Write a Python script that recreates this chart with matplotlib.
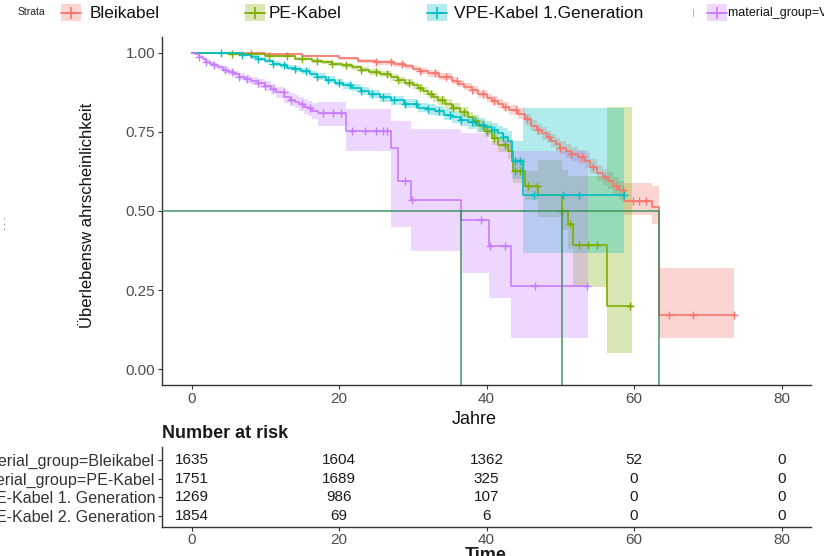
import numpy as np
import matplotlib
matplotlib.use('Agg')
import matplotlib.pyplot as plt
from matplotlib.patches import Rectangle
from matplotlib.lines import Line2D

plt.rcParams['font.family'] = ['Liberation Sans', 'DejaVu Sans']

# Kaplan-Meier readings: time, survival, lower CI, upper CI, censor times
bl_t  = [0, 5, 10, 15, 20, 22.6, 25, 27.5, 29, 30, 31, 32, 33.5, 35.3, 36.2, 37, 38, 38.9, 40, 40.8, 41.6, 42.3, 43, 44.3, 45.2, 46, 46.8, 47.5, 48.2, 48.8, 49.4, 50, 50.8, 51.5, 52.4, 53.3, 54.1, 55, 55.8, 56.5, 57.2, 57.9, 58.7, 62.5, 63.4, 73.6]
bl_s  = [1.0, .998, .995, .990, .983, .975, .970, .964, .957, .950, .943, .935, .925, .912, .903, .893, .882, .870, .857, .848, .839, .830, .820, .807, .790, .770, .757, .745, .733, .722, .711, .700, .690, .680, .670, .659, .640, .620, .607, .595, .580, .565, .533, .512, .170, .170]
bl_lo = [1.0, .996, .992, .986, .978, .969, .963, .956, .949, .941, .934, .925, .915, .901, .892, .881, .870, .857, .843, .834, .824, .815, .804, .790, .773, .752, .739, .726, .714, .702, .691, .679, .669, .658, .648, .636, .616, .595, .581, .568, .552, .535, .486, .460, .098, .098]
bl_hi = [1.0, 1.0, .998, .994, .988, .981, .977, .972, .965, .959, .952, .945, .935, .923, .914, .905, .894, .883, .871, .862, .854, .845, .836, .824, .807, .788, .775, .764, .752, .742, .731, .721, .711, .702, .692, .682, .664, .645, .633, .622, .608, .595, .587, .580, .319, .319]
bl_cens = [25, 27, 28.5, 31, 33, 34.5, 36, 38, 39.5, 41, 42.5, 44, 45.5, 47, 48.5, 50, 51.5, 53, 54.5, 56, 57.5, 58.5, 59.8, 60.7, 61.6, 64.7, 68.0, 73.6]

pe_t  = [0, 5, 10, 14, 16.3, 17.7, 19, 20.4, 21.7, 23, 24, 25.5, 27.1, 28, 29, 30, 30.7, 31.4, 32, 32.7, 33.4, 34.4, 35.3, 36.4, 37.5, 38.2, 39, 39.8, 40.7, 41.6, 42.9, 43.6, 45.2, 47.0, 50.3, 51.0, 51.7, 56.3, 59.7]
pe_s  = [1.0, .995, .990, .982, .975, .970, .965, .960, .954, .947, .940, .932, .922, .914, .905, .897, .890, .880, .870, .860, .850, .838, .827, .812, .796, .784, .770, .754, .732, .710, .691, .628, .580, .549, .500, .460, .391, .199, .199]
pe_lo = [1.0, .992, .986, .977, .969, .964, .958, .953, .946, .939, .931, .923, .912, .903, .894, .885, .878, .867, .857, .846, .836, .823, .812, .796, .779, .766, .751, .734, .710, .686, .664, .590, .535, .480, .440, .380, .260, .050, .050]
pe_hi = [1.0, .998, .994, .987, .981, .976, .972, .967, .962, .955, .949, .941, .932, .925, .916, .909, .902, .893, .883, .874, .864, .853, .842, .828, .813, .802, .789, .774, .754, .734, .718, .666, .625, .660, .630, .610, .610, .830, .830]
pe_cens = [5.5, 8, 10.5, 13, 15, 17, 19, 21, 23, 25, 26.5, 28, 29.5, 31, 32.5, 34, 35.5, 37, 38.5, 40, 41, 42.5, 43.9, 44.5, 45.6, 46.8, 50.3, 51.3, 52.6, 53.8, 55.0, 59.4]

v1_t  = [0, 3, 6.8, 8, 9, 10, 11, 12, 13, 14, 14.9, 16, 17, 18.3, 19.5, 20.6, 21.7, 23, 24, 25.5, 27, 28.8, 30.7, 32, 33, 34.2, 35.3, 36.4, 37.5, 38.7, 39.8, 40.7, 41.5, 42.2, 42.9, 43.4, 45.0, 58.7]
v1_s  = [1.0, .998, .994, .987, .980, .973, .966, .960, .953, .948, .943, .934, .925, .915, .905, .897, .890, .879, .870, .860, .850, .839, .827, .821, .815, .805, .796, .788, .780, .772, .764, .755, .745, .734, .722, .659, .549, .549]
v1_lo = [1.0, .996, .990, .982, .974, .967, .959, .952, .945, .939, .934, .924, .915, .904, .894, .885, .878, .866, .857, .846, .836, .824, .812, .805, .799, .788, .778, .769, .760, .751, .742, .731, .720, .706, .692, .600, .366, .366]
v1_hi = [1.0, 1.0, .998, .992, .986, .979, .973, .968, .961, .957, .952, .944, .935, .926, .916, .909, .902, .892, .883, .874, .864, .854, .842, .837, .831, .822, .814, .807, .800, .793, .786, .779, .770, .762, .752, .720, .827, .827]
v1_cens = [4, 6.8, 9, 11, 12.5, 14, 15.5, 17, 18.5, 20, 21.5, 23, 24.5, 26, 27.5, 29, 30.5, 32, 33.5, 35, 36.5, 38, 39.5, 41, 42.3, 43.8, 44.6, 46.5, 50.4, 52.5, 58.6]

v2_t  = [0, 0.5, 1, 1.5, 2, 2.5, 3, 3.6, 4.3, 5, 5.7, 6.5, 7.3, 8.1, 9, 10, 10.8, 11.5, 12.6, 13.3, 14, 14.6, 15.2, 15.8, 16.3, 17.1, 21.0, 27.1, 28.0, 29.8, 36.6, 40.4, 43.3, 53.8]
v2_s  = [1.0, .995, .988, .980, .972, .965, .960, .954, .947, .940, .933, .925, .918, .912, .904, .895, .885, .875, .859, .852, .845, .838, .830, .824, .817, .810, .754, .700, .596, .535, .472, .388, .262, .262]
v2_lo = [1.0, .992, .983, .974, .965, .957, .952, .945, .937, .930, .922, .913, .906, .899, .890, .880, .869, .858, .840, .832, .824, .816, .807, .800, .792, .770, .690, .449, .449, .375, .304, .224, .100, .100]
v2_hi = [1.0, .998, .993, .986, .979, .973, .968, .963, .957, .950, .944, .937, .930, .925, .918, .910, .901, .892, .878, .872, .866, .860, .853, .848, .842, .843, .823, .785, .785, .759, .745, .720, .690, .690]
v2_cens = [1, 2, 3, 4.5, 5.5, 6.5, 7.5, 9, 10, 11, 12.5, 13.5, 15, 16, 17.8, 19.2, 20.3, 21.7, 23.5, 25.0, 25.9, 26.5, 29.0, 29.9, 39.3, 40.5, 42.5, 46.6, 53.6]

groups = ['Bleikabel', 'PE-Kabel', 'VPE-Kabel 1. Generation', 'VPE-Kabel 2. Generation']
legend_names = ['Bleikabel', 'PE-Kabel', 'VPE-Kabel 1.Generation', 'material_group=VPE-Kabel 2. Generation']
colors = ['#F8766D', '#7CAE00', '#00BFC4', '#C77CFF']

# number at risk
risk_times = [0, 20, 40, 60, 80]
risk_bl = [1635, 1604, 1362, 52, 0]
risk_pe = [1751, 1689, 325, 0, 0]
risk_v1 = [1269, 986, 107, 0, 0]
risk_v2 = [1854, 69, 6, 0, 0]

curves = [(bl_t, bl_s, bl_lo, bl_hi, bl_cens),
          (pe_t, pe_s, pe_lo, pe_hi, pe_cens),
          (v1_t, v1_s, v1_lo, v1_hi, v1_cens),
          (v2_t, v2_s, v2_lo, v2_hi, v2_cens)]
risks = [risk_bl, risk_pe, risk_v1, risk_v2]

W, H = 824, 556
fig = plt.figure(figsize=(W/100, H/100), dpi=100)

def box(l, r, t, b):
    return [l/W, 1-b/H, (r-l)/W, (b-t)/H]

axc = '#333333'
tickc = '#4D4D4D'

ax = fig.add_axes(box(162, 811, 37, 385))
for (t, s, lo, hi, cens), col in zip(curves, colors):
    t = np.array(t); s = np.array(s)
    ax.fill_between(t, lo, hi, step='post', color=col, alpha=0.3, lw=0)
    ax.step(t, s, where='post', color=col, lw=1.2)
    idx = np.searchsorted(t, cens, side='right') - 1
    ax.plot(cens, s[idx], ls='none', marker='+', ms=6, mew=1.0, color=col)

# median survival lines
meds = []
for (t, s, lo, hi, cens) in curves:
    t = np.array(t); s = np.array(s)
    below = np.where(s <= 0.5)[0]
    if len(below):
        meds.append(t[below[0]])
mc = '#2E8B57'
ax.hlines(0.5, -4, max(meds), color=mc, lw=1.1, alpha=0.9, zorder=5)
ax.vlines(meds, -0.05, 0.5, color=mc, lw=1.1, alpha=0.9, zorder=5)

ax.set_xlim(-4, 84)
ax.set_ylim(-0.05, 1.05)
ax.set_xticks([0, 20, 40, 60, 80])
ax.set_yticks([0, 0.25, 0.5, 0.75, 1.0])
ax.set_yticklabels(['0.00', '0.25', '0.50', '0.75', '1.00'])
for sp in ['top', 'right']:
    ax.spines[sp].set_visible(False)
for sp in ['left', 'bottom']:
    ax.spines[sp].set_color(axc)
    ax.spines[sp].set_linewidth(1.0)
ax.tick_params(colors=axc, labelcolor=tickc, labelsize=11, length=3, width=0.8, pad=2)

fig.text(88/W, 1-215/H, 'Überlebensw ahrscheinlichkeit', rotation=90,
         ha='center', va='center', fontsize=12, color='#111111')
fig.text(474/W, 1-420/H, 'Jahre', ha='center', va='center', fontsize=13, color='#111111')
fig.text(3/W, 1-223/H, '. . .', rotation=90, ha='center', va='center', fontsize=7, color='#222222')

# risk table
ax2 = fig.add_axes(box(162, 811, 447, 527))
ys = [4, 3, 2, 1]
for y, r in zip(ys, risks):
    for x, n in zip(risk_times, r):
        ax2.text(x, y, str(n), ha='center', va='center', fontsize=11, color='#1a1a1a')
ax2.set_xlim(-4, 84)
ax2.set_ylim(0.4, 4.7)
ax2.set_xticks([0, 20, 40, 60, 80])
ax2.set_yticks(ys)
ax2.set_yticklabels(['material_group=' + g for g in groups])
for lab, col in zip(ax2.get_yticklabels(), colors):
    lab.set_color(col)
for sp in ['top', 'right']:
    ax2.spines[sp].set_visible(False)
for sp in ['left', 'bottom']:
    ax2.spines[sp].set_color(axc)
    ax2.spines[sp].set_linewidth(1.0)
ax2.tick_params(colors=axc, labelsize=11, length=3, width=0.8, pad=1)
ax2.tick_params(axis='y', labelsize=11.6, pad=2)
ax2.tick_params(axis='x', labelcolor=tickc)
fig.text(162/W, 1-433/H, 'Number at risk', ha='left', va='center', fontsize=13,
         fontweight='bold', color='#1a1a1a')
fig.text(486/W, 1-547/H, 'Time', ha='center', va='top', fontsize=13,
         fontweight='bold', color='#1a1a1a')

# legend on top
fig.text(18/W, 1-12/H, 'Strata', ha='left', va='center', fontsize=7.5, color='#222222')
key_x = [61, 245, 427, 707]
text_x = [90, 269, 454, 728]
sizes = [12.4, 12.4, 12.4, 9]
for kx, tx, col, name, fs in zip(key_x, text_x, colors, legend_names, sizes):
    fig.add_artist(Rectangle((kx/W, 1-21/H), 20/W, 17/H, transform=fig.transFigure,
                             color=col, alpha=0.3, lw=0))
    fig.add_artist(Line2D([kx/W, (kx+20)/W], [1-12.5/H, 1-12.5/H], transform=fig.transFigure,
                          color=col, lw=1.2))
    fig.add_artist(Line2D([(kx+10)/W], [1-12.5/H], transform=fig.transFigure,
                          color=col, marker='+', ms=8, mew=1.2))
    fig.text(tx/W, 1-13/H, name, ha='left', va='center', fontsize=fs, color='#111111')
fig.add_artist(Line2D([693/W, 693/W], [1-9/H, 1-16/H], transform=fig.transFigure,
                      color='#bbbbbb', lw=0.8))

fig.savefig('out.png', dpi=100)
